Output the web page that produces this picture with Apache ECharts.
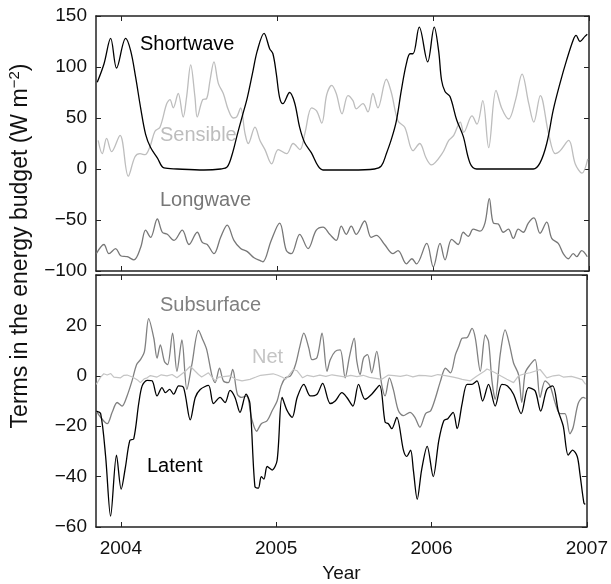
<!DOCTYPE html>
<html>
<head>
<meta charset="utf-8">
<script src="https://cdn.jsdelivr.net/npm/echarts@6/dist/echarts.min.js"></script>
<style>
html, body { margin: 0; padding: 0; background: #fff; }
#chart { width: 611px; height: 584px; }
</style>
</head>
<body>
<div id="chart"></div>
<script>
// axis ticks
const yearTicks = [2004, 2005, 2006, 2007];

// top panel (W m-2), time in decimal years
const swT = [2003.848, 2003.891, 2003.934, 2003.972, 2004.030, 2004.062, 2004.094, 2004.126, 2004.158, 2004.190, 2004.233, 2004.276, 2004.361, 2004.532, 2004.639, 2004.681, 2004.714, 2004.746, 2004.778, 2004.810, 2004.842, 2004.874, 2004.917, 2004.953, 2004.974, 2004.996, 2005.017, 2005.038, 2005.081, 2005.113, 2005.145, 2005.177, 2005.220, 2005.263, 2005.295, 2005.476, 2005.626, 2005.669, 2005.701, 2005.733, 2005.765, 2005.797, 2005.829, 2005.853, 2005.872, 2005.912, 2005.966, 2006.008, 2006.036, 2006.055, 2006.077, 2006.109, 2006.152, 2006.194, 2006.237, 2006.280, 2006.643, 2006.686, 2006.729, 2006.771, 2006.814, 2006.857, 2006.900, 2006.917, 2006.942, 2006.974, 2006.989];
const swV = [85, 103, 128, 99, 128, 116, 90, 60, 34, 21, 11, 1, 0, -1, 0, 2, 15, 34, 52, 70, 93, 116, 133, 118, 113, 93, 70, 64, 75, 65, 41, 26, 16, 3, -1, -1, 0, 3, 15, 29, 47, 77, 103, 113, 113, 139, 105, 139, 116, 87, 76, 71, 48, 32, 6, 0, 0, 6, 25, 58, 84, 107, 127, 131, 125, 130, 132];

const sensT = [2003.854, 2003.880, 2003.908, 2003.940, 2003.994, 2004.047, 2004.090, 2004.122, 2004.154, 2004.186, 2004.218, 2004.250, 2004.293, 2004.314, 2004.335, 2004.367, 2004.399, 2004.421, 2004.447, 2004.474, 2004.489, 2004.524, 2004.549, 2004.571, 2004.596, 2004.624, 2004.656, 2004.688, 2004.720, 2004.742, 2004.767, 2004.795, 2004.816, 2004.859, 2004.891, 2004.923, 2004.966, 2005.008, 2005.062, 2005.104, 2005.147, 2005.179, 2005.222, 2005.254, 2005.287, 2005.319, 2005.351, 2005.380, 2005.417, 2005.455, 2005.487, 2005.508, 2005.551, 2005.583, 2005.615, 2005.647, 2005.701, 2005.733, 2005.776, 2005.819, 2005.872, 2005.915, 2005.955, 2005.990, 2006.058, 2006.101, 2006.133, 2006.175, 2006.197, 2006.250, 2006.282, 2006.319, 2006.357, 2006.404, 2006.442, 2006.485, 2006.528, 2006.571, 2006.614, 2006.646, 2006.688, 2006.742, 2006.784, 2006.816, 2006.870, 2006.912, 2006.955, 2006.992];
const sensV = [28, 15, 30, 17, 33, -7, 12, 15, 14, 22, 37, 41, 64, 68, 60, 74, 51, 71, 102, 71, 51, 68, 69, 87, 105, 84, 74, 58, 50, 51, 60, 35, 25, 41, 28, 19, 5, 19, 15, 25, 19, 35, 60, 57, 45, 73, 82, 74, 54, 72, 67, 59, 64, 56, 74, 60, 88, 75, 47, 41, 18, 25, 11, 4, 15, 28, 33, 46, 36, 52, 44, 67, 21, 77, 59, 49, 67, 93, 64, 46, 72, 34, 15, 18, 28, 5, -4, 10];

const lwT = [2003.842, 2003.891, 2003.923, 2003.966, 2003.998, 2004.040, 2004.083, 2004.126, 2004.158, 2004.190, 2004.233, 2004.265, 2004.297, 2004.340, 2004.393, 2004.436, 2004.489, 2004.521, 2004.553, 2004.596, 2004.639, 2004.681, 2004.724, 2004.767, 2004.810, 2004.853, 2004.896, 2004.910, 2004.963, 2005.017, 2005.060, 2005.092, 2005.146, 2005.199, 2005.252, 2005.295, 2005.338, 2005.380, 2005.412, 2005.444, 2005.476, 2005.508, 2005.562, 2005.604, 2005.637, 2005.690, 2005.744, 2005.776, 2005.830, 2005.865, 2005.894, 2005.960, 2006.002, 2006.045, 2006.077, 2006.120, 2006.162, 2006.194, 2006.226, 2006.258, 2006.301, 2006.333, 2006.361, 2006.387, 2006.419, 2006.451, 2006.483, 2006.515, 2006.547, 2006.579, 2006.611, 2006.647, 2006.686, 2006.729, 2006.761, 2006.803, 2006.835, 2006.867, 2006.899, 2006.921, 2006.953, 2006.989];
const lwV = [-83, -74, -83, -78, -85, -86, -89, -77, -60, -67, -49, -62, -64, -70, -60, -74, -62, -72, -74, -83, -67, -55, -70, -78, -81, -87, -90, -91, -70, -53, -80, -83, -64, -78, -60, -57, -64, -70, -56, -64, -56, -64, -51, -67, -65, -74, -83, -80, -93, -88, -93, -73, -96, -73, -89, -69, -74, -62, -66, -59, -61, -53, -29, -53, -54, -62, -59, -68, -59, -62, -53, -48, -63, -52, -68, -73, -83, -88, -83, -86, -80, -86];

// bottom panel
const latT = [2003.842, 2003.870, 2003.902, 2003.934, 2003.972, 2004.002, 2004.030, 2004.058, 2004.083, 2004.115, 2004.137, 2004.169, 2004.201, 2004.233, 2004.265, 2004.287, 2004.314, 2004.340, 2004.372, 2004.404, 2004.447, 2004.479, 2004.511, 2004.564, 2004.596, 2004.639, 2004.671, 2004.703, 2004.735, 2004.767, 2004.806, 2004.831, 2004.863, 2004.885, 2004.904, 2004.921, 2004.942, 2004.974, 2005.006, 2005.038, 2005.071, 2005.103, 2005.135, 2005.178, 2005.220, 2005.263, 2005.299, 2005.348, 2005.380, 2005.423, 2005.455, 2005.494, 2005.530, 2005.572, 2005.615, 2005.665, 2005.701, 2005.722, 2005.744, 2005.776, 2005.819, 2005.840, 2005.865, 2005.883, 2005.908, 2005.936, 2005.972, 2006.011, 2006.047, 2006.079, 2006.105, 2006.139, 2006.165, 2006.197, 2006.229, 2006.261, 2006.293, 2006.329, 2006.367, 2006.410, 2006.453, 2006.489, 2006.528, 2006.577, 2006.624, 2006.667, 2006.703, 2006.742, 2006.780, 2006.816, 2006.848, 2006.880, 2006.908, 2006.938, 2006.955, 2006.981, 2006.990];
const latV = [-14, -15, -32, -55.7, -31.5, -45, -36, -25.6, -25, -11, -4, -1.8, -2, -8, -4.7, -6.7, -5.4, -7.3, -4, -4.7, -17.5, -8.6, -5.4, -3.8, -11, -8.6, -10.6, -5.8, -8.6, -14.5, -7.3, -11, -44, -44.6, -40, -41, -36, -37.4, -33.5, -8.6, -13.9, -16.5, -8.6, -3.4, -8, -7.3, -3, -11, -10, -6.7, -8.6, -12, -3.4, -9.3, -7.3, -3.8, -18.4, -19, -21, -16.5, -29.5, -32, -29.5, -37.4, -49, -37.4, -28, -40, -25.6, -17.8, -17, -14.5, -21, -11, -3.4, -3.4, -2, -10, -3.4, -12, -3.4, -4, -7.3, -15, -4.7, -6, -14, -5.4, -4, -14, -20, -31.5, -29.5, -32, -38.7, -50.5, -51];

const subT = [2003.842, 2003.870, 2003.912, 2003.944, 2003.976, 2004.008, 2004.040, 2004.072, 2004.101, 2004.126, 2004.152, 2004.179, 2004.212, 2004.233, 2004.254, 2004.280, 2004.301, 2004.333, 2004.361, 2004.393, 2004.425, 2004.457, 2004.500, 2004.528, 2004.553, 2004.585, 2004.607, 2004.635, 2004.660, 2004.692, 2004.720, 2004.750, 2004.778, 2004.810, 2004.842, 2004.874, 2004.904, 2004.942, 2004.974, 2005.006, 2005.032, 2005.060, 2005.092, 2005.124, 2005.152, 2005.178, 2005.210, 2005.231, 2005.263, 2005.295, 2005.327, 2005.348, 2005.380, 2005.412, 2005.444, 2005.472, 2005.502, 2005.519, 2005.540, 2005.562, 2005.588, 2005.615, 2005.647, 2005.679, 2005.701, 2005.729, 2005.754, 2005.787, 2005.819, 2005.861, 2005.893, 2005.925, 2005.962, 2005.994, 2006.026, 2006.058, 2006.090, 2006.122, 2006.154, 2006.175, 2006.197, 2006.229, 2006.261, 2006.282, 2006.314, 2006.346, 2006.367, 2006.389, 2006.410, 2006.442, 2006.474, 2006.502, 2006.528, 2006.560, 2006.581, 2006.603, 2006.635, 2006.667, 2006.699, 2006.731, 2006.763, 2006.795, 2006.827, 2006.859, 2006.891, 2006.912, 2006.944, 2006.976, 2006.992];
const subV = [-13.9, -16.5, -19, -14.5, -10.6, -12, -8, -2, 4.4, 6.4, 9.7, 22.7, 15, 7, 12.3, 5.8, 4.4, 16.9, 1.8, 14.2, -5.4, 4.4, 18, 14.2, 10.3, 0.5, -2.7, 3, -2, -2.7, 2.5, -7.3, -8.6, -8, -17, -22, -19, -17.8, -13.9, -10, -4, -0.8, 0, 4.4, 11.6, 16.9, 11, 6.4, 7.3, 16.9, 1.8, 6.4, 9.7, 10.3, -0.8, 7.7, 14.9, 5.8, 0.5, 7, 8.4, 1.2, 9.7, -3.4, -8, -0.8, -5.4, -13.9, -15.8, -14.5, -16.5, -20.4, -15, -13.9, -8.6, -2, 3, 1.2, 8.4, 11.6, 14.9, 15.2, 18.8, 14.9, 1.8, 16.2, 13.6, -2, -9.3, 8.4, 18.2, 12.3, 5.1, 0.5, -10.6, 1.2, 4.4, 6.4, -8.6, -2, -4, -10.6, -15, -15, -23, -20.4, -11, -8.6, -9];

const netT = [2003.842, 2003.870, 2003.890, 2003.912, 2003.935, 2003.955, 2003.998, 2004.020, 2004.040, 2004.070, 2004.083, 2004.110, 2004.126, 2004.150, 2004.169, 2004.190, 2004.233, 2004.260, 2004.297, 2004.330, 2004.361, 2004.390, 2004.415, 2004.447, 2004.479, 2004.500, 2004.520, 2004.564, 2004.607, 2004.630, 2004.660, 2004.703, 2004.740, 2004.780, 2004.831, 2004.870, 2004.900, 2004.940, 2004.980, 2005.010, 2005.040, 2005.060, 2005.085, 2005.110, 2005.135, 2005.170, 2005.200, 2005.240, 2005.280, 2005.320, 2005.360, 2005.400, 2005.440, 2005.480, 2005.520, 2005.560, 2005.600, 2005.640, 2005.680, 2005.722, 2005.760, 2005.800, 2005.840, 2005.880, 2005.920, 2005.960, 2006.000, 2006.040, 2006.090, 2006.140, 2006.175, 2006.197, 2006.250, 2006.290, 2006.340, 2006.357, 2006.390, 2006.410, 2006.450, 2006.485, 2006.528, 2006.560, 2006.600, 2006.635, 2006.699, 2006.742, 2006.784, 2006.820, 2006.848, 2006.900, 2006.935, 2006.970, 2006.992];
const netV = [-3.4, -0.5, 0.8, 0.3, 0.9, -0.5, -0.8, 0.2, 0.3, -0.4, -0.8, -1.8, -2.7, -1.2, -0.8, 0.1, -0.5, 0.4, 0, 0.5, -0.8, 0.6, 1.8, 3.8, 1.8, 0.5, -0.5, 1.2, -2, -0.5, -0.3, 0, -1.4, -2, -1.4, -0.5, 0.2, 0.5, 0.8, 0.2, -0.6, -1.4, 0.5, 2.5, 2, -0.8, 0.2, -0.3, 0.3, -0.2, 0.4, 0, -0.4, 0.2, -0.3, 0.2, -0.6, -1, -1.4, 0.3, 0.1, -0.2, 0.3, -0.4, 0.2, 0.1, -0.2, 0.5, 0.1, -0.5, -1, -1.4, -2, -0.2, 1.8, 2.7, 1.8, 1.2, -0.2, -1.4, -2.7, 0, 0.8, 1.2, 2.5, -0.8, 0, 0.3, -0.5, -0.2, -0.8, -1.5, -3.4];

const pairs = (t, v) => t.map((x, i) => [x, v[i]]);
const FONT = 'Liberation Sans, Arial, Helvetica, sans-serif';
const frame = { show: true, onZero: false, lineStyle: { color: '#222', width: 1.5 } };
const minus = v => (v < 0 ? '\u2212' + Math.abs(v) : String(v));

function xAxis(grid, pos, labels) {
  return {
    type: 'value', gridIndex: grid, position: pos, min: 2003.84, max: 2007,
    axisLine: frame,
    axisTick: { show: true, inside: true, length: 5, customValues: yearTicks, lineStyle: { color: '#222' } },
    axisLabel: labels
      ? { show: true, customValues: yearTicks, formatter: v => String(v),
          color: '#111', fontSize: 19, fontFamily: FONT, margin: 12 }
      : { show: false },
    splitLine: { show: false },
    name: labels ? 'Year' : '', nameLocation: 'middle', nameGap: 37,
    nameTextStyle: { color: '#111', fontSize: 19, fontFamily: FONT }
  };
}
function yAxis(grid, pos, mn, mx, step, labels, hideTop) {
  return {
    type: 'value', gridIndex: grid, position: pos, min: mn, max: mx, interval: step,
    axisLine: frame,
    axisTick: { show: true, inside: true, length: 5, lineStyle: { color: '#222' } },
    axisLabel: labels
      ? { show: true, color: '#111', fontSize: 19, fontFamily: FONT, margin: 9,
          formatter: v => (hideTop && v === mx ? '' : minus(v)) }
      : { show: false },
    splitLine: { show: false }
  };
}
function line(name, data, xi, yi, color, width, smooth, z) {
  return {
    name, type: 'line', data, xAxisIndex: xi, yAxisIndex: yi, showSymbol: false,
    smooth, z, lineStyle: { color, width }, animation: false
  };
}
function label(text, x, y, color) {
  return {
    type: 'text', x, y, z: 1,
    style: { text, fill: color, font: '20px ' + FONT, align: 'left', verticalAlign: 'middle' }
  };
}

const chart = echarts.init(document.getElementById('chart'), null, { renderer: 'canvas' });
chart.setOption({
  animation: false,
  backgroundColor: '#fff',
  grid: [
    { left: 96, top: 16, width: 493, height: 255 },
    { left: 96, top: 275, width: 493, height: 254 }
  ],
  xAxis: [xAxis(0, 'bottom', false), xAxis(1, 'bottom', true), xAxis(0, 'top', false), xAxis(1, 'top', false)],
  yAxis: [
    yAxis(0, 'left', -100, 150, 50, true, false),
    yAxis(1, 'left', -60, 40, 20, true, true),
    yAxis(0, 'right', -100, 150, 50, false, false),
    yAxis(1, 'right', -60, 40, 20, false, false)
  ],
  series: [
    line('Sensible', pairs(sensT, sensV), 0, 0, '#bdbdbd', 1.3, 0.35, 2),
    line('Longwave', pairs(lwT, lwV), 0, 0, '#777', 1.3, 0.35, 3),
    line('Shortwave', pairs(swT, swV), 0, 0, '#000', 1.3, 0.35, 4),
    line('Subsurface', pairs(subT, subV), 1, 1, '#808080', 1.3, 0.3, 2),
    line('Net', pairs(netT, netV), 1, 1, '#c4c4c4', 1.2, false, 3),
    line('Latent', pairs(latT, latV), 1, 1, '#000', 1.3, 0.3, 4)
  ],
  graphic: [
    label('Shortwave', 140, 44, '#000'),
    label('Sensible', 160, 135, '#bdbdbd'),
    label('Longwave', 160, 200, '#777'),
    label('Subsurface', 160, 305, '#808080'),
    label('Net', 252, 357, '#c4c4c4'),
    label('Latent', 147, 466, '#000'),
    {
      type: 'text', x: 21, y: 246, rotation: Math.PI / 2, z: 1,
      style: {
        text: '{a|Terms in the energy budget (W m}{s|\u22122}{a|)}',
        align: 'center', verticalAlign: 'middle', fill: '#111',
        rich: {
          a: { fontSize: 23, fontFamily: FONT, fill: '#111', lineHeight: 28 },
          s: { fontSize: 15, fontFamily: FONT, fill: '#111', verticalAlign: 'top', lineHeight: 28 }
        }
      }
    }
  ]
});
</script>
</body>
</html>
